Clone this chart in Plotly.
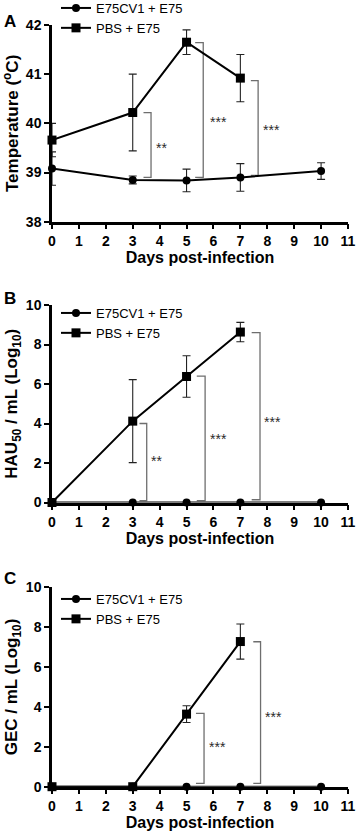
import plotly.graph_objects as go
from plotly.subplots import make_subplots

# ---------------- data ----------------
days_e75cv1 = [0, 3, 5, 7, 10]
days_pbs = [0, 3, 5, 7]
x_ticks = [0, 1, 2, 3, 4, 5, 6, 7, 8, 9, 10, 11]

# Panel A: temperature (ºC), mean ± error
temp_e75cv1 = [39.08, 38.85, 38.84, 38.90, 39.03]
temp_e75cv1_err = [0.34, 0.08, 0.23, 0.28, 0.17]
temp_pbs = [39.66, 40.22, 41.65, 40.92]
temp_pbs_err = [0.34, 0.78, 0.25, 0.48]

# Panel B: HAU50 / mL (log10)
hau_e75cv1 = [0, 0, 0, 0, 0]
hau_pbs = [0, 4.12, 6.38, 8.63]
hau_pbs_err = [None, 2.10, 1.05, 0.49]

# Panel C: GEC / mL (log10)
gec_e75cv1 = [0, 0, 0, 0, 0]
gec_pbs = [0, 0, 3.64, 7.28]
gec_pbs_err = [None, None, 0.42, 0.88]

# significance brackets per panel
brk_a_xleft = [3.40, 5.32, 7.39]
brk_a_xvert = [3.68, 5.62, 7.66]
brk_a_top = [40.22, 41.64, 40.87]
brk_a_bot = [38.90, 38.90, 38.94]
brk_a_lbl = ["**", "***", "***"]
brk_a_lx = [4.08, 6.18, 8.16]
brk_a_ly = [39.50, 40.02, 39.86]

brk_b_xleft = [3.25, 5.38, 7.42]
brk_b_xvert = [3.52, 5.69, 7.73]
brk_b_top = [4.00, 6.40, 8.60]
brk_b_bot = [0.10, 0.10, 0.14]
brk_b_lbl = ["**", "***", "***"]
brk_b_lx = [3.89, 6.18, 8.20]
brk_b_ly = [2.10, 3.20, 4.10]

brk_c_xleft = [5.35, 7.48]
brk_c_xvert = [5.65, 7.75]
brk_c_top = [3.68, 7.27]
brk_c_bot = [0.17, 0.17]
brk_c_lbl = ["***", "***"]
brk_c_lx = [6.16, 8.22]
brk_c_ly = [1.98, 3.52]

ytitles = ["Temperature (<sup>o</sup>C)",
           "HAU<sub>50</sub> / mL (Log<sub>10</sub>)",
           "GEC / mL (Log<sub>10</sub>)"]
panel_letters = ["A", "B", "C"]

# ---------------- figure ----------------
W, H = 359, 836
ML, MR = 52, 11
FONT = "Arial, Liberation Sans, Helvetica, sans-serif"

fig = make_subplots(rows=3, cols=1)

def px_dom(top_px, bot_px):
    return [1 - bot_px / H, 1 - top_px / H]

ydomains = [px_dom(25, 221.7), px_dom(305, 502.5), px_dom(587.3, 786.7)]
yranges = [[38, 42], [0, 10], [0, 10]]
ytickvals = [[38, 39, 40, 41, 42], [0, 2, 4, 6, 8, 10], [0, 2, 4, 6, 8, 10]]

panels = [
    (temp_e75cv1, temp_e75cv1_err, temp_pbs, temp_pbs_err,
     brk_a_xleft, brk_a_xvert, brk_a_top, brk_a_bot, brk_a_lbl, brk_a_lx, brk_a_ly),
    (hau_e75cv1, None, hau_pbs, hau_pbs_err,
     brk_b_xleft, brk_b_xvert, brk_b_top, brk_b_bot, brk_b_lbl, brk_b_lx, brk_b_ly),
    (gec_e75cv1, None, gec_pbs, gec_pbs_err,
     brk_c_xleft, brk_c_xvert, brk_c_top, brk_c_bot, brk_c_lbl, brk_c_lx, brk_c_ly),
]

legend_tops_px = [-7, 298, 584]
legend_names = ["legend", "legend2", "legend3"]

for i, (e_y, e_err, p_y, p_err, bxl, bxv, btop, bbot, blbl, blx, bly) in enumerate(panels):
    row = i + 1
    # brackets (drawn first, under data)
    for k in range(len(bxl)):
        fig.add_trace(go.Scatter(
            x=[bxl[k], bxv[k], bxv[k], bxl[k]],
            y=[btop[k], btop[k], bbot[k], bbot[k]],
            mode="lines", line=dict(color="#6e6e6e", width=1.3),
            showlegend=False, hoverinfo="skip", cliponaxis=False), row=row, col=1)
    err_e = dict(type="data", array=e_err, color="#222222", thickness=1.1, width=4,
                 visible=e_err is not None)
    fig.add_trace(go.Scatter(
        x=days_e75cv1, y=e_y, name="E75CV1 + E75", mode="lines+markers",
        line=dict(color="black", width=2),
        marker=dict(symbol="circle", size=8, color="black"),
        error_y=err_e, cliponaxis=False, legend=legend_names[i]), row=row, col=1)
    fig.add_trace(go.Scatter(
        x=days_pbs, y=p_y, name="PBS + E75", mode="lines+markers",
        line=dict(color="black", width=2),
        marker=dict(symbol="square", size=9, color="black"),
        error_y=dict(type="data", array=p_err, color="#222222", thickness=1.1, width=4),
        cliponaxis=False, legend=legend_names[i]), row=row, col=1)
    for k in range(len(blbl)):
        fig.add_annotation(x=blx[k], y=bly[k], text=blbl[k], showarrow=False,
                           font=dict(family=FONT, size=14, color="#2a2a2a"),
                           xref=f"x{'' if row == 1 else row}", yref=f"y{'' if row == 1 else row}")
    # panel letter
    fig.add_annotation(x=(10 - ML) / (W - ML - MR), y=1 - [21, 298.7, 578.7][i] / H,
                       xref="paper", yref="paper", text=f"<b>{panel_letters[i]}</b>",
                       showarrow=False, xanchor="center", yanchor="middle",
                       font=dict(family=FONT, size=17, color="black"))

    axis_common = dict(showline=True, linecolor="black", linewidth=2.5, ticks="outside",
                       ticklen=5, tickwidth=2, tickcolor="black", showgrid=False,
                       zeroline=False, layer="below traces", ticklabeloverflow="allow",
                       tickfont=dict(family=FONT, size=14, color="black", weight="bold"))
    fig.update_xaxes(range=[0, 11], tickvals=x_ticks, domain=[0, 1],
                     title=dict(text="<b>Days post-infection</b>", standoff=4,
                                font=dict(family=FONT, size=16, color="black")),
                     row=row, col=1, **axis_common)
    fig.update_yaxes(range=yranges[i], tickvals=ytickvals[i], domain=ydomains[i],
                     title=dict(text=f"<b>{ytitles[i]}</b>", standoff=4,
                                font=dict(family=FONT, size=17, color="black")),
                     row=row, col=1, **axis_common)

legend_style = dict(xanchor="left", yanchor="top", bgcolor="rgba(0,0,0,0)",
                    font=dict(family=FONT, size=13, color="black"),
                    itemwidth=30, tracegroupgap=0)
legend_x = 4 / (W - ML - MR)
fig.update_layout(
    width=W, height=H,
    margin=dict(l=ML, r=MR, t=0, b=0, autoexpand=False),
    paper_bgcolor="white", plot_bgcolor="white",
    font=dict(family=FONT, color="black"),
    legend=dict(x=legend_x, y=1 - legend_tops_px[0] / H, **legend_style),
    legend2=dict(x=legend_x, y=1 - legend_tops_px[1] / H, **legend_style),
    legend3=dict(x=legend_x, y=1 - legend_tops_px[2] / H, **legend_style),
)

fig.write_html("out.html", config={"displayModeBar": False},
               post_script="document.body.style.margin='0';document.body.style.padding='0';")
